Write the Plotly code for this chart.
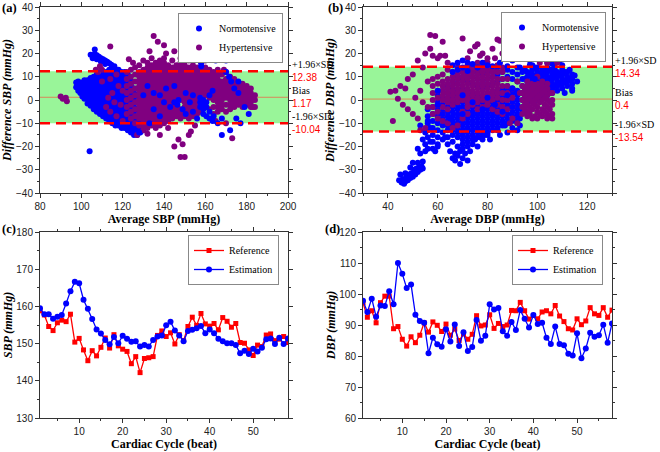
import plotly.graph_objects as go

# ---- Bland-Altman data: (average, [differences...]) columns
sbp_normo = [
    (97.5, [5.5, 7.5]), (98.5, [4.0, 6.0, 8.0]), (99.5, [3.0, 5.0, 7.0]),
    (100.5, [1.5, 3.5, 5.5, 7.5]), (101.5, [0.5, 2.5, 4.5, 6.5, 8.5]),
    (103, [-1.5, 0.5, 2.5, 4.5, 6.5, 8.5]), (104.5, [-2.5, -0.5, 1.5, 3.5, 5.5, 7.5, 9.5]),
    (106, [-4, -2, 0, 2, 4, 6, 8, 10]), (107.5, [-5, -3, -1, 1, 3, 5, 7, 9, 11]),
    (109, [-6, -4, -2, 0, 2, 4, 6, 8, 10]), (110.5, [-7, -5, -3, -1, 1, 3, 5, 7, 9, 11]),
    (112, [-8, -6, -4, -2, 0, 2, 4, 6, 8, 10, 12]),
    (113.5, [-9, -7, -5, -3, -1, 1, 3, 5, 7, 9, 11, 13]),
    (115, [-10, -8, -6, -4, -2, 0, 2, 4, 6, 8, 10, 12, 14]),
    (116.5, [-11, -9, -7, -5, -3, -1, 1, 3, 5, 7, 9, 11, 13]),
    (118, [-11, -9, -7, -5, -3, -1, 1, 3, 5, 7, 9, 11, 13]),
    (119.5, [-12, -10, -8, -6, -4, -2, 0, 2, 4, 6, 8, 10, 12]),
    (121, [-12, -10, -8, -6, -4, -2, 0, 2, 4, 6, 8, 10, 12]),
    (122.5, [-13, -11, -9, -7, -5, -3, -1, 1, 3, 5, 7, 9, 11]),
    (124, [-14, -12, -10, -8, -6, -4, -2, 0, 2, 4, 6, 8]),
    (125.5, [-15, -13, -11, -9, -7, -5, -3, -1, 1, 3, 5]),
    (127, [-15, -13, -11, -9, -7, -4, -1, 2]), (128.5, [-14, -12, -10, -7, -3, 1]),
    (130, [-13, -11, -8, -4]),
    (104.5, [19.5]), (105.5, [19.0, 18.0]), (106.5, [21.7, 19.8]), (107.5, [19.2, 17.5]),
    (108.5, [18.6]), (109.5, [18.0, 16.5]), (110.5, [17.5]), (111.5, [17.0, 15.5]),
    (112.5, [16.4]), (113.5, [15.8]), (114.5, [15.2]), (116, [14.5]), (104, [-22]),
]
sbp_normo_top = [
    (135, [-4, 3]), (138, [2, -7]), (140, [-1]), (141, [5]), (143, [-3]), (145, [6, -1]),
    (146.5, [-2]), (147, [0]), (149, [-4]), (150.5, [-6, 3]), (152.5, [-1]), (154, [2, -5]),
    (156, [-8]), (157.5, [-3, -1, 1]), (159, [-6, -4, -2, 0]), (160.5, [-7, -3, -1]),
    (162, [-5, -8, 2]), (163.5, [-9, 4]), (158, [16, 14.5]), (165, [17]), (170, [17, 12]),
    (171.5, [10]), (172.5, [8]), (174, [5]), (176, [3, 8]), (168, [-8, -15]), (172, [-13]),
    (175, [-8]), (177, [-10]), (179, [-3]), (181, [-6]), (166, [-10]), (164, [-7]),
    (132, [6]), (130, [2]), (133, [-10]), (128, [-14]),
]
sbp_hyper = [
    (122, [-6, -3, 0, 3, 6, 9, 12]), (124, [-8, -5, -2, 1, 4, 7, 10, 13]),
    (126, [-10, -7, -4, -1, 2, 5, 8, 11, 14]),
    (128, [-11, -8, -6, -4, -2, 0, 2, 4, 6, 8, 10, 12, 15]),
    (130, [-13, -11, -9, -7, -5, -3, -1, 1, 3, 5, 7, 9, 11, 13, 17]),
    (132, [-12, -10, -8, -6, -4, -2, 0, 2, 4, 6, 8, 10, 12, 14, 16]),
    (134, [-11, -9, -7, -5, -3, -1, 1, 3, 5, 7, 9, 11, 13, 15, 18]),
    (136, [-12, -10, -8, -6, -4, -2, 0, 2, 4, 6, 8, 10, 12, 14, 16]),
    (138, [-11, -9, -7, -5, -3, -1, 1, 3, 5, 7, 9, 11, 13, 15, 17]),
    (140, [-10, -8, -6, -4, -2, 0, 2, 4, 6, 8, 10, 12, 14, 16, 18]),
    (142, [-9, -7, -5, -3, -1, 1, 3, 5, 7, 9, 11, 13, 15]),
    (144, [-8, -6, -4, -2, 0, 2, 4, 6, 8, 10, 12, 14, 17]),
    (146, [-7, -5, -3, 1, 3, 5, 7, 9, 11, 13, 15]),
    (148, [-8, -6, -4, 0, 2, 4, 6, 8, 10, 12, 14, 16, 18]),
    (150, [-7, -5, -3, -1, 1, 3, 5, 7, 9, 11, 13, 15]),
    (152, [-8, -6, -4, -2, 0, 2, 4, 6, 8, 10, 12, 14, 17]),
    (154, [-7, -5, -3, -1, 1, 3, 5, 7, 9, 11, 13, 15]),
    (156, [-6, -4, -2, 0, 2, 4, 6, 8, 10, 12, 14]),
    (158, [-5, 3, 5, 7, 9, 11, 13, 16]), (160, [2, 4, 6, 8, 10, 12, 14, 17]),
    (162, [-4, 1, 3, 5, 7, 9, 11, 13]), (164, [-6, -3, 0, 2, 4, 6, 8, 10, 12]),
    (166, [-5, -3, -1, 1, 3, 5, 7, 9, 11, 13]), (168, [-4, -2, 0, 2, 4, 6, 8, 11]),
    (170, [-5, -2, 1, 3, 5, 7, 9, 12]), (172, [-4, -2, 0, 2, 4, 6, 8, 10]),
    (174, [-3, -1, 1, 3, 5, 7, 9]), (176, [-2, 0, 2, 4, 6]), (178, [-3, -1, 1, 3, 5, 7]),
    (180, [-2, 0, 2, 4, 6]), (182, [-3, -1, 1, 3, 5]), (184, [-3, 0, 2]),
    (107, [13]), (108, [12]), (109, [14.5]), (110, [13, 8]), (112, [-3]), (113, [1]),
    (114, [-5, 9]), (115, [3]), (116, [-1]), (117, [-7, 11]), (118, [6]), (119, [-2]),
    (120, [-9, 4]), (123, [17.5]), (125, [16]),
    (90, [1.5]), (91, [0.5]), (92.5, [1.0]), (93, [-0.5]), (114, [23]), (135, [27.5]),
    (137, [25]), (140, [23.5]), (141, [20]), (145, [21]), (149, [30]), (152, [23.5]),
    (153, [22]), (133, [21]), (158, [19]), (161, [18]), (169, [13]), (127, [-15]),
    (132, [-14.5]), (138, [-15]), (142, [-12]), (145, [-20]), (147, [-17]), (148, [-24.5]),
    (150, [-24.5]), (149, [-19]), (152, [-15]), (153, [-13.5]), (155, [-11]), (170, [-10]),
    (173, [-16.5]), (165, [-9]), (183, [-3]),
]

dbp_normo = [
    (56, [-16, -13, -10, -7, -4]), (58, [-18, -15, -12, -9, -6, -3]),
    (60, [-19, -16, -13, -10, -7, -4, -1, 2]), (62, [-17, -14, -11, -8, -5, -2, 1, 4]),
    (64, [-16, -13, -11, -9, -7, -5, -3, -1, 1, 3, 6]),
    (66, [-18, -15, -13, -11, -9, -7, -5, -3, -1, 1, 3, 5, 8]),
    (68, [-20, -16, -14, -12, -10, -8, -6, -4, -2, 0, 2, 4, 7, 10]),
    (70, [-19, -17, -15, -13, -11, -9, -7, -5, -3, -1, 1, 3, 5, 9, 12]),
    (72, [-18, -16, -14, -12, -10, -8, -6, -4, -2, 0, 2, 4, 8, 11, 14]),
    (74, [-17, -15, -13, -11, -9, -7, -5, -3, -1, 1, 3, 7, 10, 13]),
    (76, [-16, -14, -12, -10, -8, -6, -4, -2, 0, 2, 6, 9, 12, 15]),
    (78, [-15, -13, -11, -9, -7, -5, -3, -1, 1, 5, 8, 11, 14]),
    (80, [-14, -12, -10, -8, -6, -4, -2, 0, 2, 6, 9, 12]),
    (82, [-13, -11, -9, -7, -5, -3, -1, 1, 3, 7, 10, 13]),
    (84, [-12, -10, -8, -6, -4, -2, 0, 2, 4, 8, 11, 14]),
    (86, [-11, -9, -7, -5, -3, -1, 1, 3, 5, 9, 12]),
    (88, [-10, -8, -6, -4, -2, 0, 2, 4, 6, 10, 13]),
    (90, [-9, -7, -5, -3, -1, 1, 3, 5, 9, 12]),
    (92, [-10, -8, -6, -4, -2, 0, 2, 4, 8, 11, 14]), (94, [-5, -3, 0, 3, 6, 9, 12]),
    (95, [1, 5, 9, 13]), (96, [-1, 2, 4, 6, 8, 10, 12]), (97, [3, 7, 11, 15]),
    (98, [1, 3, 5, 7, 9, 11, 13, 15]), (99, [2, 6, 10, 14]),
    (100, [0, 2, 4, 6, 8, 10, 12, 14]), (101, [3, 7, 11]), (102, [1, 3, 5, 7, 9, 11, 13]),
    (103, [4, 8, 12]), (104, [2, 4, 6, 8, 10, 12, 14]), (105, [5, 9, 13]),
    (106, [3, 5, 7, 9, 11, 13]), (107, [6, 10, 14]), (108, [4, 6, 8, 10, 12]),
    (109, [7, 11]), (110, [5, 7, 9, 11, 13, 15]), (111, [8, 12]), (112, [6, 8, 10, 12]),
    (113, [9]), (114, [5, 7, 9, 11]), (116, [8]),
    (104, [16]), (106, [15.5]), (109, [17]), (111, [18]), (113, [13]), (115, [10.5]),
    (114, [4]), (111, [3]), (93, [-8, -11]), (92, [-13]), (90, [-12]), (88, [-14]),
    (85, [-15]), (84, [-13]), (80, [-15]), (81, [-17]), (87, [-11]),
    (65, [-22]), (66, [-25]), (67, [-23, -26]), (68, [-24]), (69, [-27.5, -22]),
    (70, [-25, -21]), (71, [-23]), (72, [-26, -20]), (73, [-22]), (74, [-19]), (75, [-17]),
    (76, [-20]), (77, [-16]), (78, [-17]), (79, [-15]), (64, [-19]), (63, [-16]),
    (60, [-20]), (59, [-22]), (58, [-21]),
    (44.5, [-34.5]), (45.5, [-35.5]), (46.5, [-36]), (46, [-34]), (47, [-35]),
    (47.5, [-33]), (48, [-34.5]), (48.5, [-32]), (49, [-33.5]), (49.5, [-31.5]),
    (50, [-33]), (50.5, [-30]), (51, [-32]), (51.5, [-29.5]), (52, [-31]), (52.5, [-29]),
    (53, [-30]), (53.5, [-28.5]), (54, [-29.5]), (45, [-32]), (47, [-31.5]), (49, [-29]),
    (50, [-27]), (52, [-27]), (54, [-26.5]), (53, [-23]), (55, [-22, -19]), (56, [-21]),
    (57, [-18]), (52, [-21]), (54, [-17]), (53, [-11]), (55, [-14]), (57, [-12]), (56, [-9]),
]
dbp_normo_top = [
    (66, [12, 15]), (68, [13, 16]), (70, [14, 17]), (72, [12.5, 16]), (74, [15.5]),
    (76, [14]), (78, [16]), (80, [15]), (82, [14.5]), (85, [16]), (88, [14.5]), (90, [17]),
    (93, [14]), (95, [21]), (100, [20.5]), (97, [17]), (89, [29.5]), (60, [-2, 4]),
    (62, [-6]), (65, [-8]), (70, [-6, 2]), (74, [-1]), (78, [-4]), (80, [1]), (83, [-2]),
    (86, [-5]), (88, [2]), (90, [-3, 5]), (99, [9]), (103, [11]), (107, [12]),
]
dbp_hyper = [
    (58, [-6, -3, 0, 3, 6, 9]), (60, [-8, -5, -2, 1, 4, 7, 10]),
    (62, [-9, -6, -3, 0, 2, 4, 6, 8, 11]), (64, [-10, -4, -1, 1, 3, 5, 7, 9, 13]),
    (66, [-12, -2, 0, 2, 4, 6, 8, 10, 12]), (68, [-11, -1, 1, 3, 5, 7, 9, 11, 14]),
    (70, [-8, -5, 0, 2, 4, 6, 8, 10, 12]), (72, [-6, -3, -1, 1, 3, 5, 7, 9, 11, 13, 15]),
    (74, [-2, 0, 2, 4, 6, 8, 10, 12, 14]), (76, [-4, -1, 1, 3, 5, 7, 9, 11, 13, 16]),
    (78, [-3, 0, 2, 4, 6, 8, 10, 12, 14]), (80, [-2, -1, 1, 3, 5, 7, 9, 11, 13, 16]),
    (82, [-4, 0, 2, 4, 6, 8, 10, 12, 14]), (84, [-5, -2, 1, 3, 5, 7, 9, 12, 15]),
    (86, [-6, -3, 0, 3, 6, 9, 12, 14]), (88, [-4, 0, 3, 6, 9]), (90, [-8, -3, 1, 5]),
    (94, [-6, -3, 0, 3, 6]), (95, [-4, -1, 2, 5]), (96, [-7, -5, -2, 0, 3, 6, 8]),
    (97, [-6, -3, 1, 4]), (98, [-8, -4, -1, 2, 5, 7]), (99, [-7, -2, 0, 3, 6]),
    (100, [-8, -5, -3, 1, 4, 7, 10]), (101, [-6, -1, 2, 5]), (102, [-7, -4, 0, 3, 6, 8]),
    (103, [-5, -2, 1, 4]), (104, [-8, -6, -3, 0, 2, 5, 7]), (105, [-7, -4, -1, 3]),
    (106, [-8, -6, -2, 0, 3]),
    (41, [3.5]), (42, [-9]), (43, [4]), (44, [0.5]), (45, [6]), (46, [-2]), (47, [5]),
    (48, [9, -4]), (50, [11, -6]), (51, [1]), (52, [17, -8]), (53, [4, -13]), (54, [14, -1]),
    (55, [20, -12]), (56, [-3, 8]), (57, [28, 22]), (58, [19]), (59, [27.5]), (60, [18]),
    (61, [19]), (62, [25]), (63, [19]), (64, [16]), (70, [26.5]), (72, [18]), (73, [21]),
    (75, [23]), (76, [24]), (77, [19]), (78, [20]), (80, [18]), (82, [22]), (83, [18]),
    (84, [26]), (85, [25.5]), (86, [20]), (79, [16]), (89, [-10]), (92, [-10, 8]),
    (93, [3]), (95, [-3]), (101, [16]), (102, [21]), (103, [19]), (104, [24, 16]),
    (105, [26]), (106, [26]), (107, [18]), (108, [18, 16]),
]

sbp_limits = [12.38, 1.17, -10.04]   # +1.96 SD, bias, -1.96 SD
dbp_limits = [14.34, 0.4, -13.54]

# ---- beat-by-beat tracking
beats = list(range(1, 59))
sbp_ref = [158.8, 157.7, 154.6, 153.5, 155.6, 156.3, 155.9, 157.9, 150.4, 151.4,
           148.3, 145.4, 148.1, 146.7, 149.0, 151.5, 148.8, 152.4, 149.4, 148.5,
           147.9, 144.6, 146.5, 142.2, 146.0, 146.2, 146.5, 152.2, 153.4, 151.9,
           152.9, 149.9, 152.4, 150.8, 154.6, 157.1, 154.9, 158.1, 155.3, 154.7,
           155.4, 153.7, 157.0, 156.0, 154.4, 155.4, 150.3, 150.1, 148.3, 146.8,
           149.6, 149.2, 152.3, 152.6, 150.8, 151.2, 151.9, 150.3]
sbp_est = [159.5, 157.9, 157.9, 156.7, 157.2, 157.7, 160.8, 164.1, 166.6, 166.2,
           161.8, 159.4, 156.6, 153.8, 152.7, 151.0, 149.8, 151.8, 150.1, 152.1,
           151.3, 150.5, 150.6, 149.2, 149.6, 149.2, 151.0, 151.9, 152.2, 154.9,
           155.9, 153.5, 152.2, 150.6, 153.4, 153.7, 154.1, 154.7, 152.8, 153.8,
           152.8, 151.3, 150.6, 150.1, 150.1, 149.6, 147.4, 148.1, 147.2, 148.6,
           147.9, 148.9, 151.2, 151.4, 149.9, 151.6, 149.9, 151.4]
dbp_ref = [97.2, 92.5, 94.6, 90.7, 97.2, 99.3, 99.3, 88.8, 89.5, 85.4,
           83.2, 86.2, 84.3, 86.7, 90.7, 87.7, 91.0, 89.9, 87.9, 90.3,
           86.7, 88.7, 85.0, 87.1, 85.4, 87.0, 93.0, 89.7, 90.0, 93.3,
           88.9, 90.5, 89.5, 90.0, 94.7, 94.6, 97.3, 94.6, 91.9, 93.1,
           92.0, 94.2, 94.6, 93.6, 96.3, 92.9, 91.1, 88.8, 88.4, 92.0,
           90.1, 91.3, 95.6, 93.6, 93.1, 95.6, 92.5, 94.8]
dbp_est = [97.8, 94.2, 98.5, 92.7, 96.3, 96.1, 100.9, 96.7, 110.0, 106.5,
           101.9, 103.1, 93.3, 91.3, 90.7, 80.9, 85.9, 83.8, 83.0, 88.6,
           84.7, 90.2, 83.2, 87.7, 81.6, 82.9, 91.6, 84.9, 86.5, 96.7,
           95.0, 95.5, 88.0, 86.5, 91.0, 88.4, 94.8, 92.0, 89.2, 93.2,
           90.3, 90.7, 85.9, 83.9, 89.5, 83.9, 83.5, 80.7, 80.2, 87.3,
           79.3, 82.4, 87.5, 86.2, 86.7, 90.1, 84.3, 90.5]


def flat(cols):
    xs, ys = [], []
    for x, yl in cols:
        for y in yl:
            xs.append(x)
            ys.append(y)
    return xs, ys


BLUE = "#0000FF"
PURPLE = "#800080"
RED = "#FF0000"
SERIF = "Liberation Serif"
SANS = "Liberation Sans"

fig = go.Figure()


def cloud(cols, color, name, xa, ya, legend, show=True):
    xs, ys = flat(cols)
    fig.add_trace(go.Scatter(
        x=xs, y=ys, mode="markers", name=name, xaxis=xa, yaxis=ya,
        legend=legend, showlegend=show, legendgroup=name + legend,
        marker=dict(color=color, size=6, line=dict(width=0)),
    ))


cloud(sbp_normo, BLUE, "Normotensive", "x", "y", "legend")
cloud(sbp_hyper, PURPLE, "Hypertensive", "x", "y", "legend")
cloud(sbp_normo_top, BLUE, "Normotensive", "x", "y", "legend", show=False)
cloud(dbp_normo, BLUE, "Normotensive", "x2", "y2", "legend2")
cloud(dbp_hyper, PURPLE, "Hypertensive", "x2", "y2", "legend2")
cloud(dbp_normo_top, BLUE, "Normotensive", "x2", "y2", "legend2", show=False)

for ref, est, xa, ya, lg in [(sbp_ref, sbp_est, "x3", "y3", "legend3"),
                             (dbp_ref, dbp_est, "x4", "y4", "legend4")]:
    fig.add_trace(go.Scatter(
        x=beats, y=ref, mode="lines+markers", name="Reference", xaxis=xa, yaxis=ya,
        legend=lg, line=dict(color=RED, width=1.3),
        marker=dict(symbol="square", size=5, color=RED)))
    fig.add_trace(go.Scatter(
        x=beats, y=est, mode="lines+markers", name="Estimation", xaxis=xa, yaxis=ya,
        legend=lg, line=dict(color=BLUE, width=1.3),
        marker=dict(symbol="circle", size=6, color=BLUE)))

W, H = 660, 452


def ax(domain, rng, dtick, title, anchor, italic=False):
    t = f"<b><i>{title}</i></b>" if italic else f"<b>{title}</b>"
    return dict(
        domain=domain, range=rng, dtick=dtick, anchor=anchor, automargin=False,
        showline=True, linecolor="#333333", linewidth=1, mirror="ticks",
        ticks="outside", ticklen=4, tickcolor="#333333",
        minor=dict(ticks="outside", ticklen=2, tickcolor="#333333", dtick=dtick / 2),
        tickfont=dict(family=SANS, size=10, color="#222222"),
        showgrid=False, zeroline=False,
        title=dict(text=t, font=dict(family=SERIF, size=12, color="black"), standoff=1),
    )


xa_left = [40 / W, 288 / W]
xa_right = [363 / W, 612 / W]
ya_top = [1 - 193 / H, 1 - 7 / H]
ya_bot = [1 - 418 / H, 1 - 232 / H]

layout = dict(
    width=W, height=H, margin=dict(l=0, r=0, t=0, b=0, autoexpand=False),
    paper_bgcolor="white", plot_bgcolor="white", showlegend=True,
    font=dict(family=SERIF, size=10, color="black"),
    xaxis=ax(xa_left, [80, 200], 20, "Average SBP (mmHg)", "y"),
    yaxis=ax(ya_top, [-40, 40], 10, "Difference SBP (mmHg)", "x", italic=True),
    xaxis2=ax(xa_right, [30, 130], 20, "Average DBP (mmHg)", "y2"),
    yaxis2=ax(ya_top, [-40, 40], 10, "Difference DBP (mmHg)", "x2", italic=True),
    xaxis3=ax(xa_left, [1, 58], 10, "Cardiac Cycle (beat)", "y3"),
    yaxis3=ax(ya_bot, [130, 180], 10, "SBP (mmHg)", "x3", italic=True),
    xaxis4=ax(xa_right, [1, 58], 10, "Cardiac Cycle (beat)", "y4"),
    yaxis4=ax(ya_bot, [60, 120], 10, "DBP (mmHg)", "x4", italic=True),
)

leg_style = dict(xanchor="right", yanchor="top", bgcolor="white", bordercolor="#888888",
                 borderwidth=1, font=dict(family=SERIF, size=10, color="black"),
                 tracegroupgap=0, itemwidth=30)
layout["legend"] = dict(x=283 / W, y=1 - 13 / H, **leg_style)
layout["legend2"] = dict(x=606 / W, y=1 - 12 / H, **leg_style)
layout["legend3"] = dict(x=279 / W, y=1 - 235 / H, **leg_style)
layout["legend4"] = dict(x=603 / W, y=1 - 235 / H, **leg_style)
fig.update_layout(**layout)

# limits of agreement band, bias and dashed limit lines
shapes = []
annotations = []
for (up, bias, lo), xr, yr, xt in [(sbp_limits, "x domain", "y", 291 / W),
                                   (dbp_limits, "x2 domain", "y2", 614 / W)]:
    shapes.append(dict(type="rect", xref=xr, yref=yr, x0=0, x1=1, y0=lo, y1=up,
                       fillcolor="#99F599", line=dict(width=0), layer="below"))
    shapes.append(dict(type="line", xref=xr, yref=yr, x0=0, x1=1, y0=bias, y1=bias,
                       line=dict(color="#D9885A", width=1), layer="below"))
    for v in (up, lo):
        shapes.append(dict(type="line", xref=xr, yref=yr, x0=0, x1=1, y0=v, y1=v,
                           line=dict(color=RED, width=2.5, dash="10px,6px")))
    for txt, v, anc, col, fam in [("+1.96×SD", up, "bottom", "black", SERIF),
                                  (f"{up}", up, "top", RED, SANS),
                                  ("Bias", bias, "bottom", "black", SERIF),
                                  (f"{bias}", bias, "top", RED, SANS),
                                  ("-1.96×SD", lo, "bottom", "black", SERIF),
                                  (f"{lo}", lo, "top", RED, SANS)]:
        annotations.append(dict(text=txt, xref="paper", yref=yr, x=xt, y=v,
                                xanchor="left", yanchor=anc, showarrow=False,
                                font=dict(family=fam, size=10, color=col),
                                borderpad=0))

for lab, x, y in [("(a)", 1, 8), ("(b)", 327, 8), ("(c)", 1, 229), ("(d)", 324, 229)]:
    annotations.append(dict(text=f"<b>{lab}</b>", xref="paper", yref="paper",
                            x=x / W, y=1 - y / H, xanchor="left", yanchor="middle",
                            showarrow=False, borderpad=0,
                            font=dict(family=SERIF, size=12.5, color="black")))

fig.update_layout(shapes=shapes, annotations=annotations)
# the page's default body margin would shift the 660x452 figure off the window
fig.write_html("out.html", config={"displayModeBar": False},
               post_script="document.body.style.margin='0px';")
